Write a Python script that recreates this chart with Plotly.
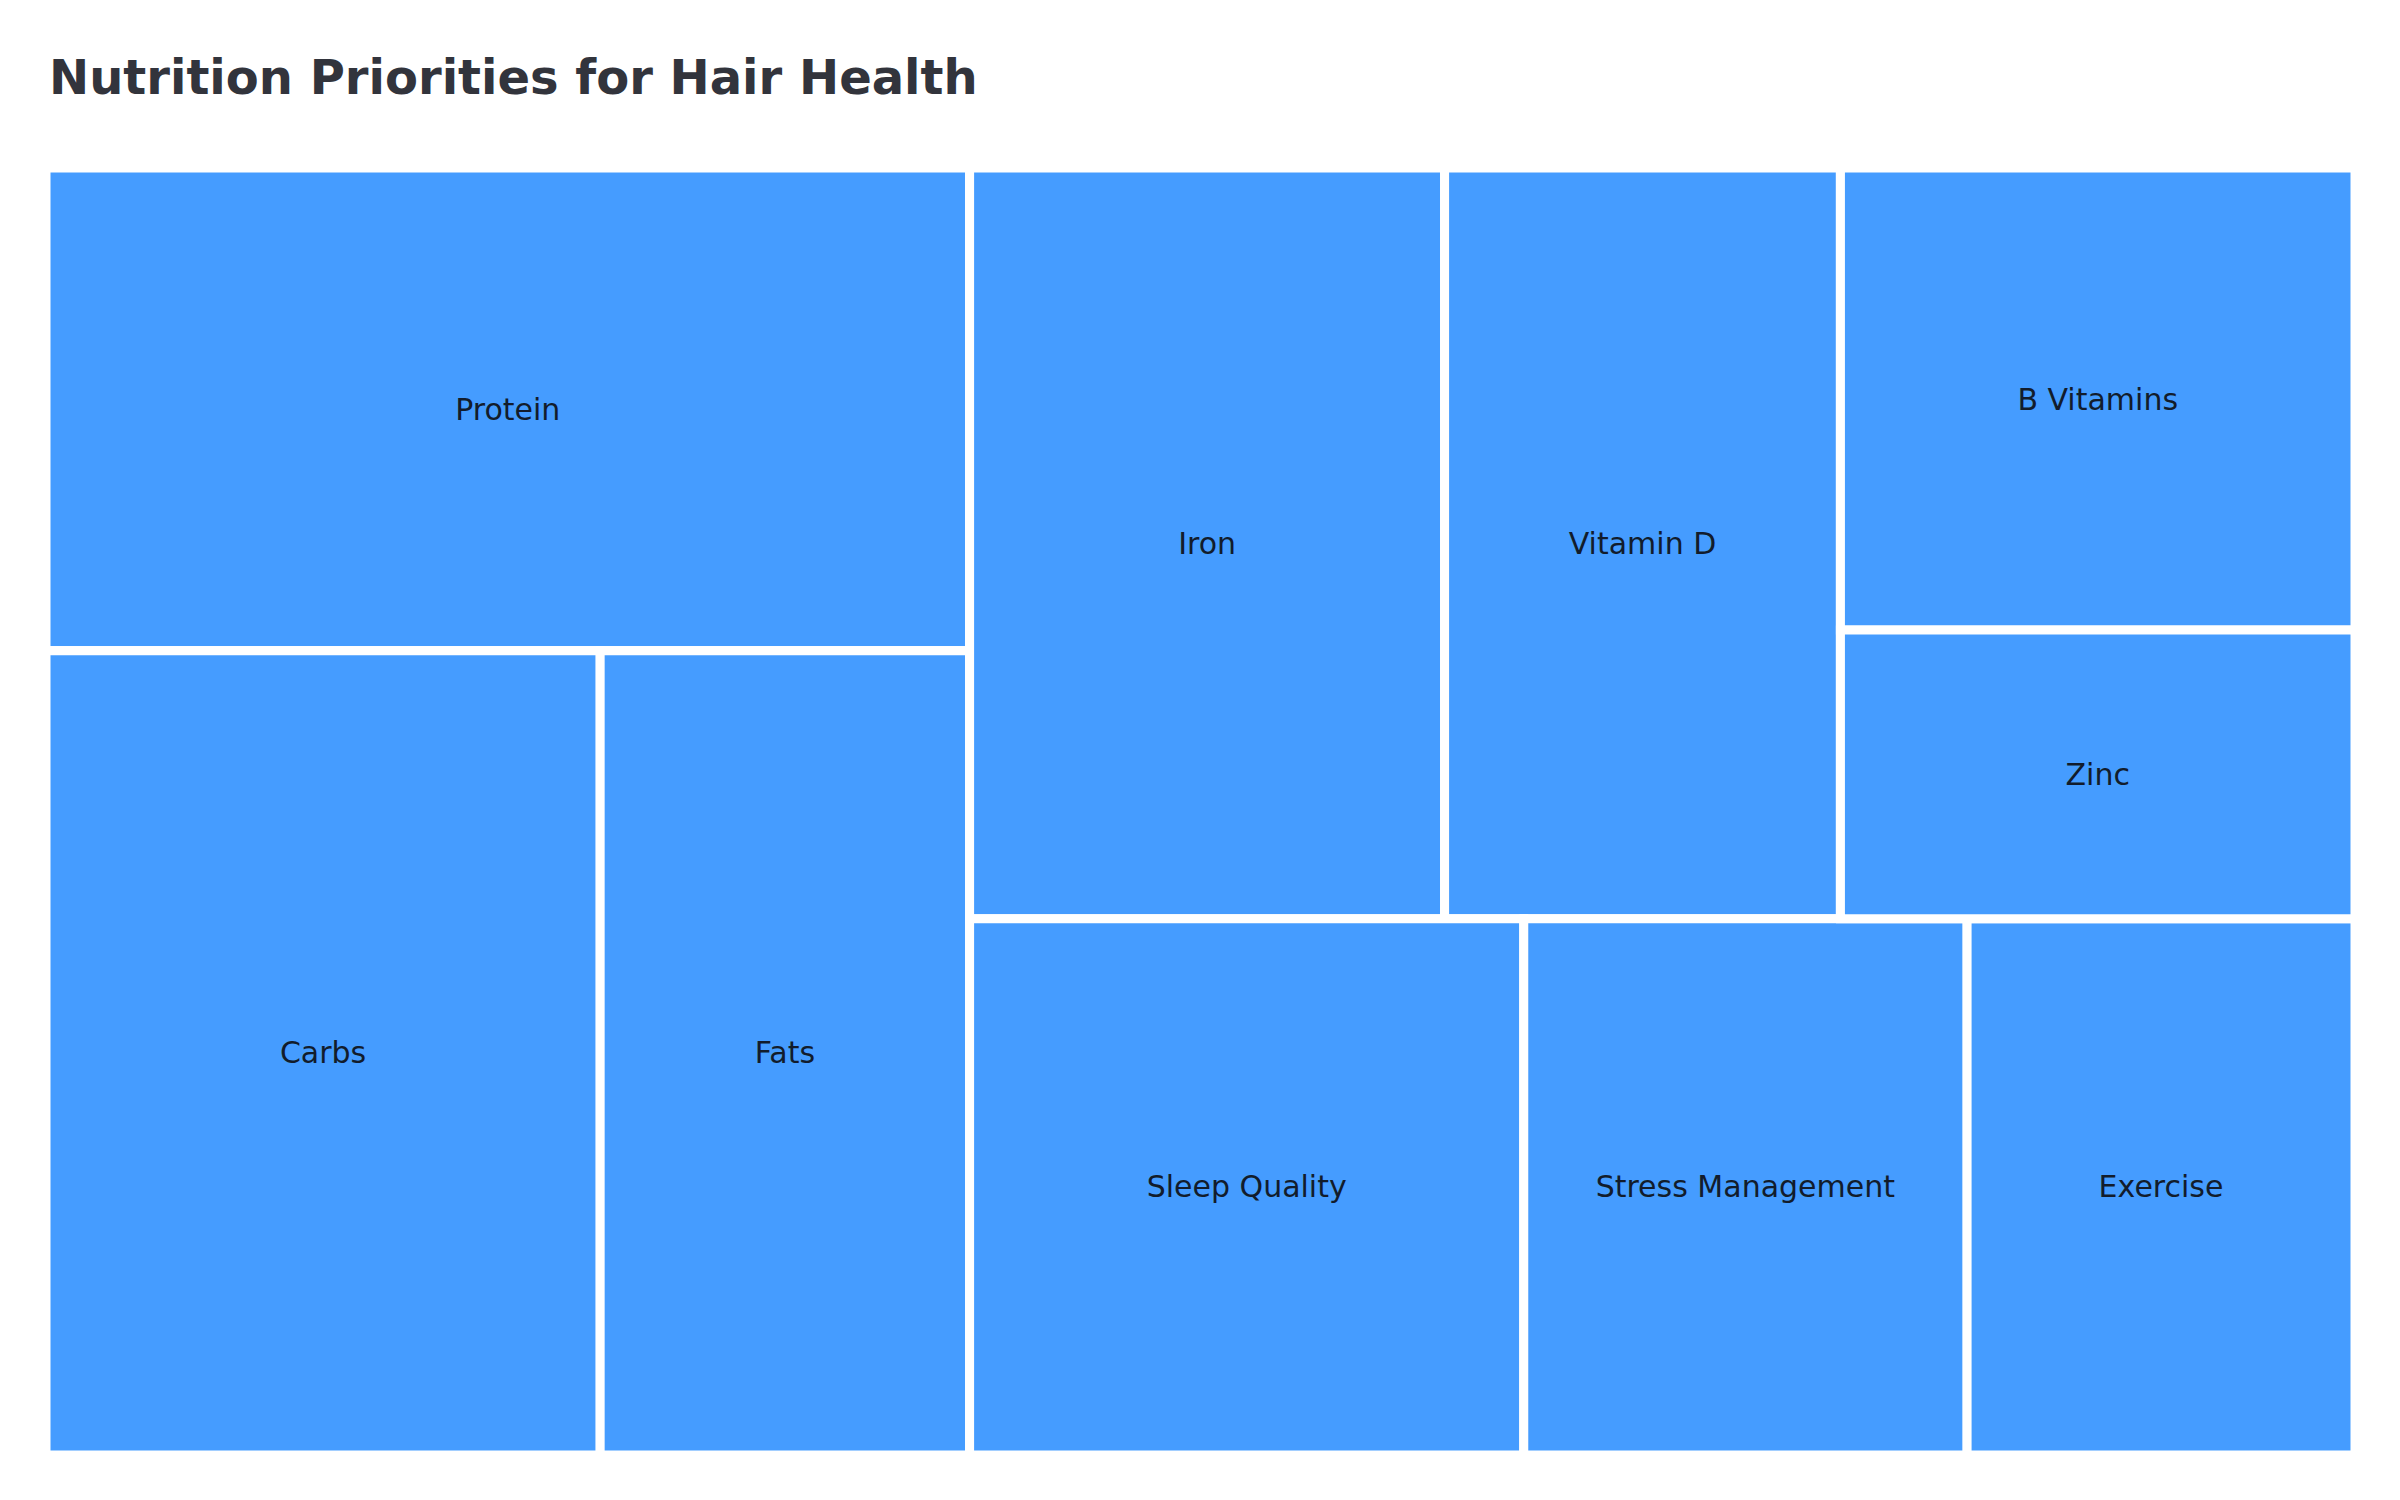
import plotly.graph_objects as go

# Tree in drawing order; only the leaf tiles carry text in the chart
LABELS = ["Macronutrients", "Protein", "Carbs & Fats", "Carbs", "Fats",
          "Other Factors", "Micronutrients", "Iron", "Vitamin D",
          "B Vitamins & Zinc", "B Vitamins", "Zinc",
          "Lifestyle", "Sleep Quality", "Stress Management", "Exercise"]
PARENTS = ["", "Macronutrients", "Macronutrients", "Carbs & Fats", "Carbs & Fats",
           "", "Other Factors", "Micronutrients", "Micronutrients",
           "Micronutrients", "B Vitamins & Zinc", "B Vitamins & Zinc",
           "Other Factors", "Lifestyle", "Lifestyle", "Lifestyle"]
# priority score of each item (groups get theirs from their children)
VALUES = [0, 15, 0, 15, 10,
          0, 0, 12, 10,
          0, 8, 5,
          0, 10, 8, 7]

TITLE = "Nutrition Priorities for Hair Health"
TILE_COLOR = "#459cff"
FONT = "DejaVu Sans"

groups = set(PARENTS)
text_tpl = ["" if lab in groups else "%{label}" for lab in LABELS]

fig = go.Figure(
    go.Treemap(
        labels=LABELS,
        parents=PARENTS,
        values=VALUES,
        branchvalues="remainder",
        sort=False,
        texttemplate=text_tpl,
        textposition="middle center",
        textfont=dict(family=FONT, size=30, color="#121c2c"),
        tiling=dict(packing="slice-dice", pad=0),
        marker=dict(
            colors=[TILE_COLOR] * len(LABELS),
            line=dict(color="white", width=9),
            pad=dict(t=0, l=0, r=0, b=0),
        ),
        pathbar=dict(visible=False),
        hoverinfo="label+value",
    )
)

fig.update_layout(
    width=2400,
    height=1500,
    title=dict(
        text=TITLE,
        x=41 / 2400,
        xanchor="left",
        xref="container",
        y=1 - 69 / 1500,
        yanchor="middle",
        font=dict(family=FONT, size=48, color="#32343c", weight="bold"),
    ),
    font=dict(family=FONT),
    margin=dict(l=38, r=53, t=160, b=53),
    paper_bgcolor="white",
)
fig.write_html("out.html")
